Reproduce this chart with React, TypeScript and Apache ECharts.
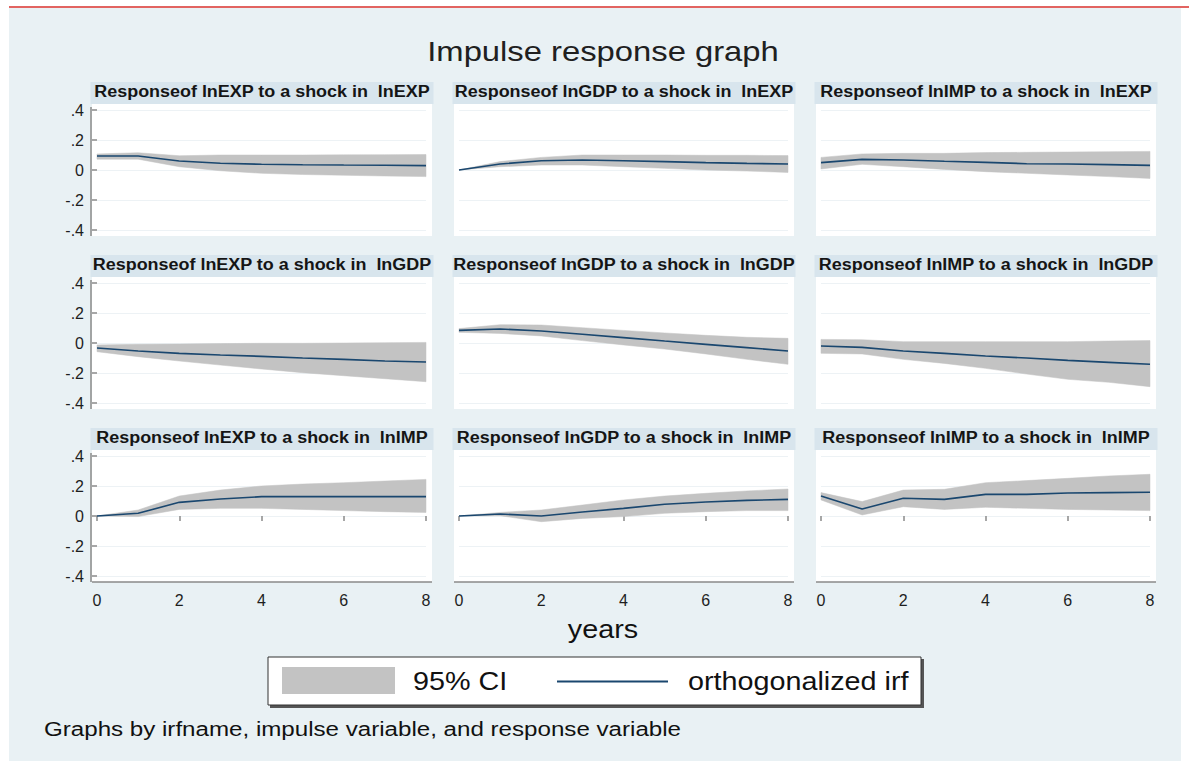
import React, { useEffect, useRef } from "react";
import * as echarts from "echarts";

// ---------- data ----------
const horizons = [0, 1, 2, 3, 4, 5, 6, 7, 8];
const impulseVars = ["lnEXP", "lnGDP", "lnIMP"]; // rows
const responseVars = ["lnEXP", "lnGDP", "lnIMP"]; // columns

// impulse lnEXP
const irf_EXP_EXP = [0.093, 0.093, 0.06, 0.045, 0.038, 0.035, 0.033, 0.032, 0.029];
const lo_EXP_EXP = [0.072, 0.072, 0.022, -0.005, -0.022, -0.03, -0.035, -0.04, -0.044];
const hi_EXP_EXP = [0.107, 0.115, 0.095, 0.1, 0.1, 0.1, 0.101, 0.102, 0.103];

const irf_EXP_GDP = [0, 0.04, 0.062, 0.067, 0.062, 0.056, 0.049, 0.044, 0.04];
const lo_EXP_GDP = [0, 0.022, 0.033, 0.033, 0.022, 0.011, 0, -0.007, -0.016];
const hi_EXP_GDP = [0, 0.056, 0.084, 0.1, 0.1, 0.1, 0.098, 0.098, 0.096];

const irf_EXP_IMP = [0.049, 0.071, 0.067, 0.058, 0.051, 0.042, 0.04, 0.036, 0.031];
const lo_EXP_IMP = [0.007, 0.038, 0.022, 0.004, -0.011, -0.022, -0.033, -0.044, -0.056];
const hi_EXP_IMP = [0.084, 0.107, 0.111, 0.111, 0.116, 0.118, 0.12, 0.122, 0.124];

// impulse lnGDP
const irf_GDP_EXP = [-0.033, -0.053, -0.069, -0.08, -0.089, -0.1, -0.109, -0.12, -0.127];
const lo_GDP_EXP = [-0.058, -0.091, -0.12, -0.147, -0.173, -0.198, -0.218, -0.238, -0.258];
const hi_GDP_EXP = [-0.013, -0.009, -0.007, -0.004, -0.002, -0.002, 0, 0.002, 0.004];

const irf_GDP_GDP = [0.084, 0.093, 0.08, 0.058, 0.036, 0.013, -0.009, -0.031, -0.053];
const lo_GDP_GDP = [0.071, 0.064, 0.047, 0.016, -0.013, -0.04, -0.073, -0.109, -0.142];
const hi_GDP_GDP = [0.096, 0.122, 0.12, 0.102, 0.084, 0.067, 0.051, 0.038, 0.031];

const irf_GDP_IMP = [-0.02, -0.029, -0.053, -0.069, -0.087, -0.1, -0.116, -0.129, -0.142];
const lo_GDP_IMP = [-0.069, -0.073, -0.109, -0.136, -0.169, -0.207, -0.242, -0.262, -0.291];
const hi_GDP_IMP = [0.024, 0.022, 0.009, 0.009, 0.009, 0.009, 0.009, 0.013, 0.016];

// impulse lnIMP
const irf_IMP_EXP = [0, 0.018, 0.091, 0.113, 0.129, 0.129, 0.129, 0.129, 0.129];
const lo_IMP_EXP = [0, -0.004, 0.044, 0.051, 0.051, 0.044, 0.036, 0.029, 0.024];
const hi_IMP_EXP = [0, 0.04, 0.133, 0.173, 0.2, 0.213, 0.222, 0.233, 0.244];

const irf_IMP_GDP = [0, 0.013, 0, 0.027, 0.051, 0.078, 0.093, 0.104, 0.111];
const lo_IMP_GDP = [0, 0.002, -0.038, -0.016, -0.004, 0.018, 0.029, 0.036, 0.036];
const hi_IMP_GDP = [0, 0.024, 0.04, 0.073, 0.107, 0.133, 0.151, 0.167, 0.18];

const irf_IMP_IMP = [0.133, 0.047, 0.118, 0.111, 0.144, 0.144, 0.153, 0.156, 0.158];
const lo_IMP_IMP = [0.107, 0.007, 0.062, 0.044, 0.058, 0.051, 0.044, 0.04, 0.036];
const hi_IMP_IMP = [0.156, 0.096, 0.173, 0.178, 0.222, 0.236, 0.251, 0.267, 0.278];

const panels = [
  [
    { irf: irf_EXP_EXP, lo: lo_EXP_EXP, hi: hi_EXP_EXP },
    { irf: irf_EXP_GDP, lo: lo_EXP_GDP, hi: hi_EXP_GDP },
    { irf: irf_EXP_IMP, lo: lo_EXP_IMP, hi: hi_EXP_IMP },
  ],
  [
    { irf: irf_GDP_EXP, lo: lo_GDP_EXP, hi: hi_GDP_EXP },
    { irf: irf_GDP_GDP, lo: lo_GDP_GDP, hi: hi_GDP_GDP },
    { irf: irf_GDP_IMP, lo: lo_GDP_IMP, hi: hi_GDP_IMP },
  ],
  [
    { irf: irf_IMP_EXP, lo: lo_IMP_EXP, hi: hi_IMP_EXP },
    { irf: irf_IMP_GDP, lo: lo_IMP_GDP, hi: hi_IMP_GDP },
    { irf: irf_IMP_IMP, lo: lo_IMP_IMP, hi: hi_IMP_IMP },
  ],
];

// ---------- layout / style ----------
const FONT = '"Liberation Sans", Arial, Helvetica, sans-serif';
const SX = 1.15; // horizontal text stretch seen in the reference
const PX_PER_YEAR = 41.125;
const PX_PER_UNIT = 150;
const COL_X0 = [97, 459, 821]; // pixel of horizon 0
const ROW_TOP = [104, 277, 450]; // top of white plot region
const PLOT_PAD_L = 5; // plot region extends beyond data range
const PLOT_PAD_R = 6;
const PLOT_PAD_T = 6;
const PLOT_PAD_B = 6;
const GRID_W = 8 * PX_PER_YEAR;
const GRID_H = 0.8 * PX_PER_UNIT;
const STRIP_H = 22;
const LINE_COLOR = "#1a476f";
const BAND_COLOR = "#c3c3c3";
const AXIS_COLOR = "#8a8a8a";
const STRIP_COLOR = "#d8e5ed";
const BG_COLOR = "#e9f1f4";
const GRIDLINE_COLOR = "#edf2f5";
const LABEL_COLOR = "#1e1e1e";

const yFmt = (v: number) => {
  if (Math.abs(v) < 1e-9) return "0";
  const s = Math.abs(v).toFixed(1).replace(/^0/, "");
  return (v < 0 ? "-" : "") + s;
};

function txt(text: string, x: number, y: number, fontSize: number, opts: any = {}) {
  const align = opts.align || "center";
  return {
    type: "text",
    x,
    y,
    scaleX: SX,
    z: 20,
    style: {
      text,
      fontSize,
      fontFamily: FONT,
      fontWeight: opts.bold ? "bold" : "normal",
      fill: opts.fill || "#1a1a1a",
      align,
      verticalAlign: "middle",
      textAlign: align,
      textVerticalAlign: "middle",
    },
  };
}

function buildOption() {
  const grids: any[] = [];
  const xAxes: any[] = [];
  const yAxes: any[] = [];
  const series: any[] = [];
  const graphics: any[] = [];

  graphics.push({
    type: "rect",
    z: -10,
    shape: { x: 9, y: 8, width: 1172, height: 753 },
    style: { fill: BG_COLOR },
  });
  graphics.push({
    type: "line",
    z: 5,
    shape: { x1: 9, y1: 7, x2: 1189, y2: 7 },
    style: { stroke: "#d8312c", lineWidth: 1.5 },
  });

  let idx = 0;
  for (let r = 0; r < 3; r++) {
    for (let c = 0; c < 3; c++) {
      const p = panels[r][c];
      const gLeft = COL_X0[c];
      const gTop = ROW_TOP[r] + PLOT_PAD_T;
      const plotL = gLeft - PLOT_PAD_L;
      const plotT = ROW_TOP[r];
      const plotW = GRID_W + PLOT_PAD_L + PLOT_PAD_R;
      const plotH = GRID_H + PLOT_PAD_T + PLOT_PAD_B;
      grids.push({ left: gLeft, top: gTop, width: GRID_W, height: GRID_H, show: false });

      // white plot region
      graphics.push({
        type: "rect",
        z: -5,
        shape: { x: plotL, y: plotT, width: plotW, height: plotH },
        style: { fill: "#ffffff" },
      });

      const showX = r === 2;
      const showY = c === 0;
      xAxes.push({
        gridIndex: idx,
        type: "value",
        min: 0,
        max: 8,
        interval: 2,
        show: showX,
        offset: PLOT_PAD_B,
        axisLine: { show: false },
        axisTick: { show: true, length: 5, lineStyle: { color: AXIS_COLOR, width: 1.5 } },
        axisLabel: {
          show: true,
          margin: 10,
          fontSize: 16,
          fontFamily: FONT,
          color: LABEL_COLOR,
        },
        splitLine: { show: false },
      });
      yAxes.push({
        gridIndex: idx,
        type: "value",
        min: -0.4,
        max: 0.4,
        interval: 0.2,
        show: true,
        offset: PLOT_PAD_L + 1,
        axisLine: { show: false },
        axisTick: {
          show: showY,
          length: 5,
          lineStyle: { color: AXIS_COLOR, width: 1.5 },
        },
        axisLabel: {
          show: showY,
          formatter: yFmt,
          margin: 7,
          fontSize: 16,
          fontFamily: FONT,
          color: LABEL_COLOR,
        },
        splitLine: { show: true, lineStyle: { color: GRIDLINE_COLOR, width: 1 } },
      });
      if (showY) {
        graphics.push({
          type: "line",
          z: 6,
          shape: { x1: plotL - 1, y1: plotT + 3, x2: plotL - 1, y2: plotT + plotH },
          style: { stroke: AXIS_COLOR, lineWidth: 1.5 },
        });
      }
      if (showX) {
        graphics.push({
          type: "line",
          z: 6,
          shape: { x1: plotL, y1: plotT + plotH, x2: plotL + plotW, y2: plotT + plotH },
          style: { stroke: AXIS_COLOR, lineWidth: 1.5 },
        });
      }

      const lo = p.lo;
      const hi = p.hi;
      series.push({
        type: "custom",
        xAxisIndex: idx,
        yAxisIndex: idx,
        silent: true,
        z: 2,
        clip: false,
        encode: { x: 0, y: [1, 2] },
        data: horizons.map((t, k) => [t, lo[k], hi[k]]),
        renderItem: (params: any, api: any) => {
          if (params.dataIndex !== 0) return null;
          const upper = horizons.map((t, k) => api.coord([t, hi[k]]));
          const lower = horizons.map((t, k) => api.coord([t, lo[k]])).reverse();
          return {
            type: "polygon",
            shape: { points: upper.concat(lower) },
            style: { fill: BAND_COLOR, stroke: BAND_COLOR, lineWidth: 0.5 },
          };
        },
      });
      series.push({
        type: "line",
        xAxisIndex: idx,
        yAxisIndex: idx,
        symbol: "none",
        silent: true,
        z: 5,
        lineStyle: { color: LINE_COLOR, width: 1.6 },
        data: horizons.map((t, k) => [t, p.irf[k]]),
      });

      // strip
      graphics.push({
        type: "rect",
        z: 1,
        shape: { x: plotL - 1.5, y: plotT - STRIP_H, width: plotW + 3, height: STRIP_H },
        style: { fill: STRIP_COLOR },
      });
      graphics.push(
        txt(
          `Responseof ${responseVars[c]} to a shock in  ${impulseVars[r]}`,
          plotL + plotW / 2,
          plotT - STRIP_H / 2 - 1,
          15.6,
          { bold: true, fill: "#151515" }
        )
      );
      idx++;
    }
  }

  // titles
  graphics.push(txt("Impulse response graph", 603, 51, 28.5, { fill: "#202020" }));
  graphics.push(txt("years", 603, 630, 25, { fill: "#111" }));

  // legend
  graphics.push({
    type: "rect",
    z: 8,
    shape: { x: 270, y: 659, width: 654, height: 49 },
    style: { fill: "#555" },
  });
  graphics.push({
    type: "rect",
    z: 9,
    shape: { x: 268, y: 657, width: 653, height: 48 },
    style: { fill: "#ffffff", stroke: "#333", lineWidth: 1 },
  });
  graphics.push({
    type: "rect",
    z: 10,
    shape: { x: 282, y: 667, width: 113, height: 27 },
    style: { fill: BAND_COLOR },
  });
  graphics.push({
    type: "line",
    z: 10,
    shape: { x1: 557, y1: 681.5, x2: 668, y2: 681.5 },
    style: { stroke: LINE_COLOR, lineWidth: 1.8 },
  });
  graphics.push(txt("95% CI", 413, 682, 25, { align: "left", fill: "#111" }));
  graphics.push(txt("orthogonalized irf", 688, 682, 25, { align: "left", fill: "#111" }));

  // note
  graphics.push(
    txt("Graphs by irfname, impulse variable, and response variable", 44, 729, 21, {
      align: "left",
      fill: "#111",
    })
  );

  return {
    animation: false,
    backgroundColor: "#ffffff",
    grid: grids,
    xAxis: xAxes,
    yAxis: yAxes,
    series,
    graphic: graphics,
  };
}

export default function App() {
  const ref = useRef<HTMLDivElement>(null);
  useEffect(() => {
    if (!ref.current) return;
    const chart = echarts.init(ref.current, undefined, { renderer: "svg" });
    chart.setOption(buildOption() as any);
    return () => chart.dispose();
  }, []);
  return (
    <div
      ref={ref}
      style={{ position: "absolute", left: 0, top: 0, width: 1189, height: 765 }}
    />
  );
}
